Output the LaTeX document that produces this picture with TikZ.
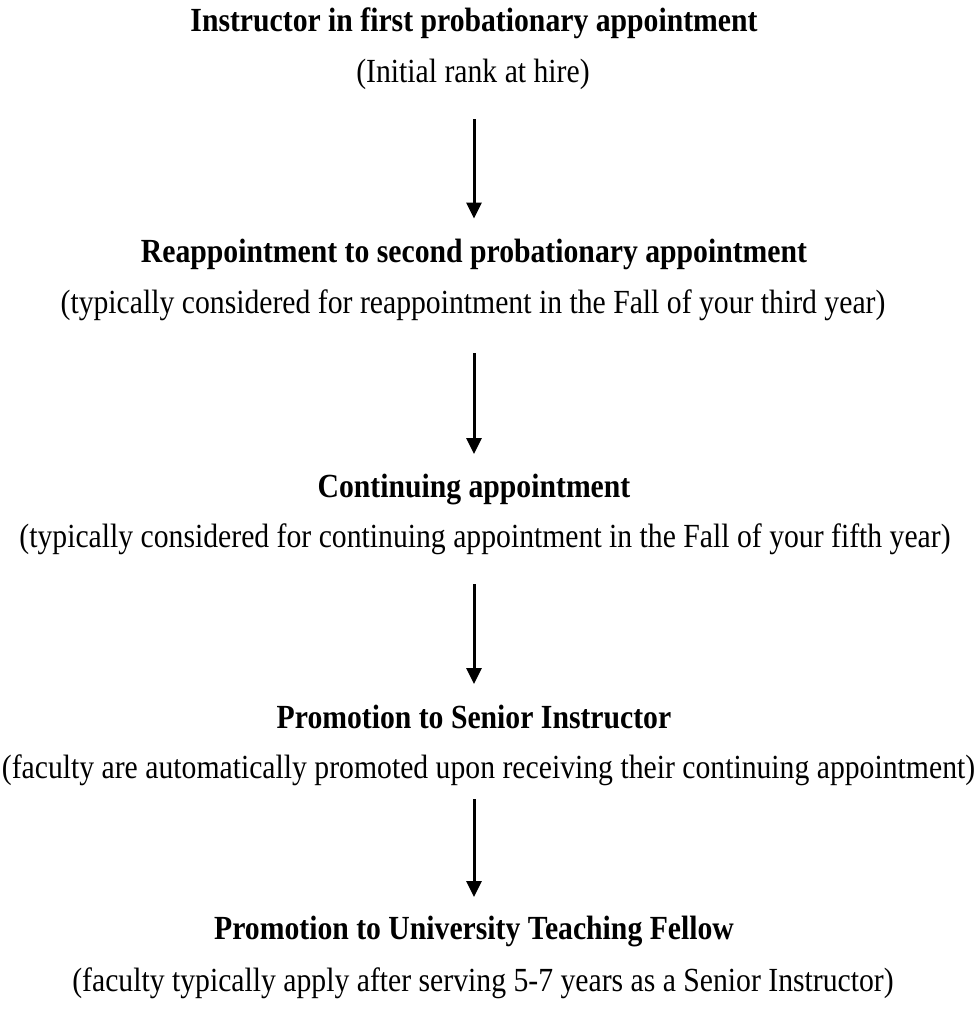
\documentclass[tikz,border=0pt]{standalone}
\usepackage{fontspec}
\setmainfont{Liberation Serif}[FakeStretch=0.88]
\usetikzlibrary{arrows.meta,positioning,calc}

\begin{document}
\begin{tikzpicture}[x=0.4pt,y=-0.4pt,
  stage/.style={font=\fontsize{13.5}{15}\selectfont\bfseries,inner sep=0pt,outer sep=0pt,anchor=base},
  note/.style={font=\fontsize{13.5}{15}\selectfont,inner sep=0pt,outer sep=0pt,anchor=base},
  flow/.style={-{Triangle[width=6pt,length=6.4pt]},line width=1.2pt}]
  \useasboundingbox (0,0) rectangle (977,1013);
  % stages and their notes
  \node[stage] (t1) at (474,31) {Instructor in first probationary appointment};
  \node[note] (s1) at (473,82) {(Initial rank at hire)};
  \node[stage] (t2) at (474,262) {Reappointment to second probationary appointment};
  \node[note] (s2) at (473,313) {(typically considered for reappointment in the Fall of your third year)};
  \node[stage] (t3) at (474,497) {Continuing appointment};
  \node[note] (s3) at (485,547) {(typically considered for continuing appointment in the Fall of your fifth year)};
  \node[stage] (t4) at (474,728) {Promotion to Senior Instructor};
  \node[note] (s4) at (488.5,778) {(faculty are automatically promoted upon receiving their continuing appointment)};
  \node[stage] (t5) at (474,939) {Promotion to University Teaching Fellow};
  \node[note] (s5) at (483,991) {(faculty typically apply after serving 5-7 years as a Senior Instructor)};
  % arrows
  \foreach \a/\b/\p/\q in {s1/t2/12pt/8pt,s2/t3/13.2pt/7.8pt,s3/t4/12pt/8.2pt,s4/t5/5.6pt/7.4pt}
    \draw[flow,shorten <=\p,shorten >=\q] (\a.south -| \b.north) -- (\b.north);
\end{tikzpicture}
\end{document}
